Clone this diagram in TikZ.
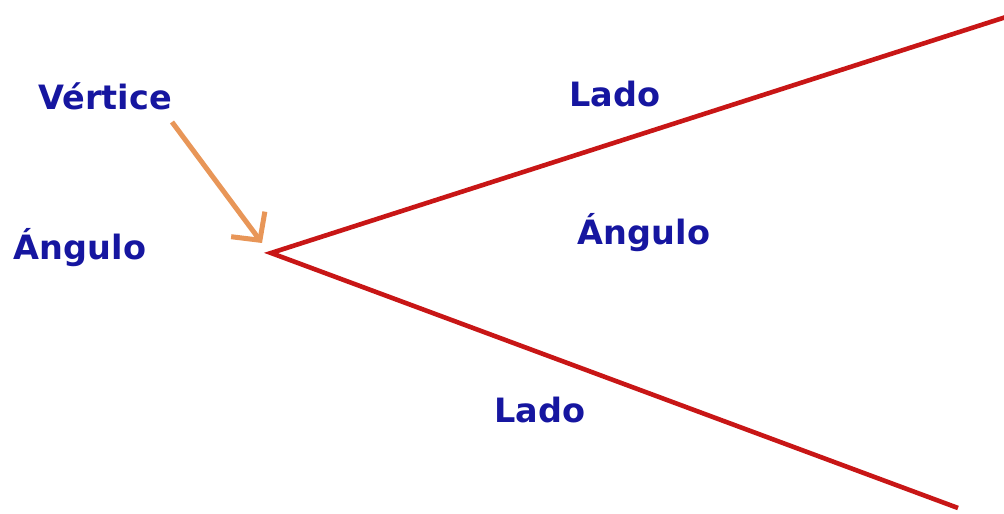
\documentclass[tikz,border=0pt]{standalone}
\usepackage{fontspec}
\setmainfont{DejaVu Sans}
\usetikzlibrary{arrows.meta}
\definecolor{ladored}{RGB}{200,22,22}
\definecolor{tagblue}{RGB}{22,22,160}
\definecolor{pointer}{RGB}{232,150,88}
\tikzset{
  tag/.style={text=tagblue, font=\bfseries\fontsize{33.5}{40}\selectfont, anchor=base, inner sep=0pt},
  side/.style={draw=ladored, line width=4.6pt, line join=miter},
  pointerline/.style={draw=pointer, line width=5pt, -{Straight Barb[length=20pt,width=42pt,line width=5pt]}}
}

\begin{document}
\begin{tikzpicture}[x=1pt,y=1pt]
\useasboundingbox (0,0) rectangle (1004,514);
\coordinate (vtx) at (271,261);
\coordinate (endA) at (1006,497);
\coordinate (endB) at (958,6);
\draw[side] (endA) -- (vtx) -- (endB);
\node[tag] (vertice) at (105,404) {Vértice};
\node[tag] (anguloL) at (80,254) {Ángulo};
\node[tag] (ladoA) at (615,407) {Lado};
\node[tag] (anguloR) at (644,269) {Ángulo};
\node[tag] (ladoB) at (540,91) {Lado};
\coordinate (tail) at (172,392);
\coordinate (tip) at (262,271);
\draw[pointerline] (tail) -- (tip);
\end{tikzpicture}
\end{document}
